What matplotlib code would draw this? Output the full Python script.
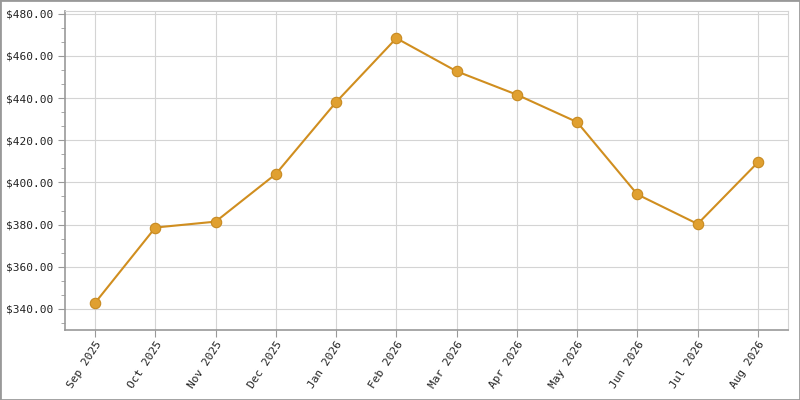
import matplotlib
matplotlib.use('Agg')
import matplotlib.pyplot as plt
from matplotlib.ticker import FuncFormatter, AutoMinorLocator, MultipleLocator
from matplotlib.patches import Rectangle

# 数据
months = ['Sep 2025', 'Oct 2025', 'Nov 2025', 'Dec 2025', 'Jan 2026', 'Feb 2026',
          'Mar 2026', 'Apr 2026', 'May 2026', 'Jun 2026', 'Jul 2026', 'Aug 2026']
prices = [342.9, 378.6, 381.4, 404.0, 438.1, 468.4,
          452.7, 441.6, 428.6, 394.3, 380.3, 409.5]

plt.rcParams['font.family'] = ['DejaVu Sans Mono']

fig = plt.figure(figsize=(8, 4), dpi=100)
ax = fig.add_axes([0.08125, 0.175, 0.90375, 0.7975])

x = list(range(len(months)))
ax.plot(x, prices, color='#d08e1f', linewidth=1.5, marker='o', markersize=7.5,
        markerfacecolor='#e0a030', markeredgecolor='#c88a20', markeredgewidth=0.8,
        zorder=3)

ax.set_xlim(-0.5, len(months) - 0.5)
ax.set_ylim(330, 481.3)
ax.yaxis.set_major_locator(MultipleLocator(20))
ax.yaxis.set_minor_locator(AutoMinorLocator(3))
ax.yaxis.set_major_formatter(FuncFormatter(lambda v, p: f'${v:.2f}'))

ax.set_xticks(x)
ax.set_xticklabels(months, rotation=57, ha='right', rotation_mode='anchor')

ax.grid(True, color='#d4d4d4', linewidth=0.8)
ax.set_axisbelow(True)

for side in ['top', 'right']:
    ax.spines[side].set_color('#d4d4d4')
    ax.spines[side].set_linewidth(0.8)
for side in ['left', 'bottom']:
    ax.spines[side].set_color('#999999')
    ax.spines[side].set_linewidth(1.2)

ax.tick_params(axis='both', which='major', length=5, color='#999999',
               labelsize=8, labelcolor='#222222')
ax.tick_params(axis='y', which='minor', length=3, color='#999999', pad=4)
ax.tick_params(axis='x', pad=2)

# 外框
fig.patches.append(Rectangle((0, 0), 1, 1, transform=fig.transFigure,
                             fill=False, edgecolor='#999999', linewidth=2))

fig.savefig('out.png', dpi=100)
